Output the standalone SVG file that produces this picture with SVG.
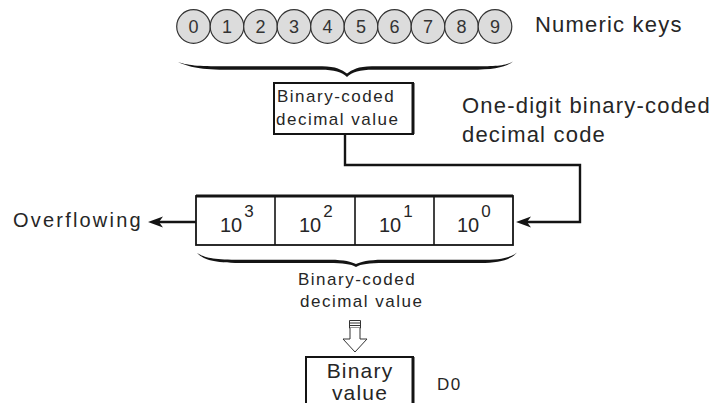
<svg xmlns="http://www.w3.org/2000/svg" width="716" height="403" viewBox="0 0 716 403">
<style>
.t{font-family:"Liberation Sans",Arial,sans-serif;fill:#262626}
.lbl{font-size:22px;letter-spacing:1.2px}
.box{font-size:17px;letter-spacing:1.5px}
.key circle{fill:#dcdcdc;stroke:#333;stroke-width:1.2}
.key text{font-family:"Liberation Sans",Arial,sans-serif;font-size:18px;fill:#333;text-anchor:middle}
.ln{fill:none;stroke:#141414;stroke-width:2.4}
.cell{font-family:"Liberation Sans",Arial,sans-serif;font-size:20px;fill:#262626}
.brace{fill:#141414}
</style>
<defs>
<marker id="ah" viewBox="0 -6 15 12" refX="7" refY="0" markerWidth="15" markerHeight="12" markerUnits="userSpaceOnUse" orient="auto">
<path d="M15,0 L0,-5.5 L4,0 L0,5.5 Z" fill="#141414"/>
</marker>
</defs>
<rect width="716" height="403" fill="#fff"/>

<g id="numeric-keys" class="key">
<circle cx="193.5" cy="26.5" r="16.8"/><text x="193.5" y="33">0</text>
<circle cx="227" cy="26.5" r="16.8"/><text x="227" y="33">1</text>
<circle cx="260.5" cy="26.5" r="16.8"/><text x="260.5" y="33">2</text>
<circle cx="294" cy="26.5" r="16.8"/><text x="294" y="33">3</text>
<circle cx="327.5" cy="26.5" r="16.8"/><text x="327.5" y="33">4</text>
<circle cx="361" cy="26.5" r="16.8"/><text x="361" y="33">5</text>
<circle cx="394.5" cy="26.5" r="16.8"/><text x="394.5" y="33">6</text>
<circle cx="428" cy="26.5" r="16.8"/><text x="428" y="33">7</text>
<circle cx="461.5" cy="26.5" r="16.8"/><text x="461.5" y="33">8</text>
<circle cx="495" cy="26.5" r="16.8"/><text x="495" y="33">9</text>
</g>
<text class="t lbl" x="535" y="32">Numeric keys</text>

<path class="brace" d="M178,62 C190,66 200,66.3 230,66.3 L322,66.3 C336,66.3 342,70 347,73.5 C352,70 358,66.3 372,66.3 L470,66.3 C495,66.3 505,66 513,61.5 C506,67 495,69.8 470,69.8 L373,69.8 C360,69.8 352,72 347,77 C342,72 334,69.8 321,69.8 L230,69.8 C200,69.8 189,67 178,62 Z"/>

<g id="bcd-box">
<rect x="274" y="83" width="139" height="51" fill="#fff" stroke="#141414" stroke-width="2"/>
<line x1="413" y1="83" x2="413" y2="134" stroke="#141414" stroke-width="3"/>
<text class="t box" x="277" y="102">Binary-coded</text>
<text class="t box" x="276" y="125">decimal value</text>
</g>

<text class="t lbl" x="462" y="113">One-digit binary-coded</text>
<text class="t lbl" x="462" y="142">decimal code</text>

<g id="register">
<rect x="196" y="196" width="317" height="49" fill="#fff" stroke="#141414" stroke-width="1.8"/>
<line x1="196" y1="196" x2="513" y2="196" stroke="#141414" stroke-width="3"/>
<line x1="275" y1="196" x2="275" y2="245" stroke="#141414" stroke-width="1.6"/>
<line x1="355" y1="196" x2="355" y2="245" stroke="#141414" stroke-width="1.6"/>
<line x1="434" y1="196" x2="434" y2="245" stroke="#141414" stroke-width="1.6"/>
<text class="cell" x="220" y="232">10<tspan dx="2" dy="-15" font-size="17">3</tspan></text>
<text class="cell" x="299" y="232">10<tspan dx="2" dy="-15" font-size="17">2</tspan></text>
<text class="cell" x="379" y="232">10<tspan dx="2" dy="-15" font-size="17">1</tspan></text>
<text class="cell" x="457" y="232">10<tspan dx="2" dy="-15" font-size="17">0</tspan></text>
</g>

<text class="t" x="13" y="227" font-size="20" letter-spacing="2.2">Overflowing</text>

<path class="brace" d="M197,253 C205,258 214,259.8 240,259.8 L330,259.8 C345,259.8 351,262 356,264 C361,262 368,259.8 383,259.8 L480,259.8 C500,259.8 510,258 517,252.5 C511,259.5 500,263 480,263 L384,263 C369,263 361,264 356,267 C351,264 343,263 329,263 L240,263 C212,263 203,259 197,253 Z"/>

<text class="t box" x="298" y="285">Binary-coded</text>
<text class="t box" x="300" y="307">decimal value</text>

<g id="convert-arrow" fill="#fff" stroke="#333" stroke-width="1">
<path d="M349.5,320.5 H360.5 V328 H349.5 Z"/>
<line x1="349.5" y1="323" x2="360.5" y2="323"/>
<line x1="349.5" y1="325.5" x2="360.5" y2="325.5"/>
<path d="M350,328 V339 H343 L355,352 L367,339 H360 V328"/>
</g>

<g id="binary-box">
<rect x="306" y="357" width="107" height="60" fill="#fff" stroke="#141414" stroke-width="2"/>
<line x1="413" y1="357" x2="413" y2="403" stroke="#141414" stroke-width="3"/>
<text class="t" x="360" y="378" font-size="21" letter-spacing="1.2" text-anchor="middle">Binary</text>
<text class="t" x="360" y="400" font-size="21" letter-spacing="1.2" text-anchor="middle">value</text>
</g>
<text class="t" x="437" y="390" font-size="17" letter-spacing="1.5">D0</text>

<g id="connectors">
<path class="ln" d="M345,134 V165 H580 V222 H524" marker-end="url(#ah)"/>
<path class="ln" d="M196,222 H156" marker-end="url(#ah)"/>
</g>
</svg>
